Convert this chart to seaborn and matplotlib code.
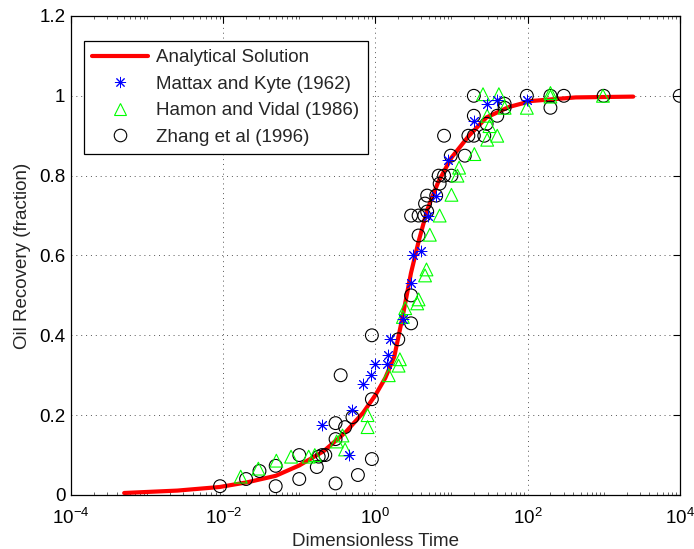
import matplotlib
matplotlib.use("Agg")
import matplotlib.pyplot as plt
import seaborn as sns
import numpy as np
import pandas as pd
from matplotlib.lines import Line2D
from matplotlib.ticker import FixedLocator, LogLocator, NullFormatter

# ---------------- data ----------------
curve_t = [0.0005, 0.0025, 0.009, 0.021, 0.049, 0.1, 0.21, 0.41, 0.69, 1.0, 1.35,
           1.77, 2.02, 2.3, 2.94, 3.7, 4.8, 6.7, 10, 17, 29, 57, 112, 430, 2450]
curve_r = [0.005, 0.011, 0.02, 0.032, 0.048, 0.074, 0.11, 0.158, 0.206, 0.25, 0.293,
           0.346, 0.398, 0.45, 0.556, 0.635, 0.714, 0.784, 0.845, 0.90, 0.946, 0.972,
           0.987, 0.996, 0.998]

mattax_t = [0.20, 0.45, 0.49, 0.69, 0.88, 1.0, 1.41, 1.48, 1.55, 2.3, 2.94, 3.14,
            3.95, 4.9, 6.3, 9.1, 19.6, 29.4, 40, 98]
mattax_r = [0.175, 0.10, 0.213, 0.278, 0.30, 0.328, 0.328, 0.35, 0.39, 0.44, 0.53, 0.60,
            0.61, 0.70, 0.75, 0.84, 0.937, 0.98, 0.99, 0.99]

hamon_t = [0.017, 0.029, 0.050, 0.078, 0.133, 0.16, 0.31, 0.37, 0.40, 0.79, 0.79,
           1.5, 2.02, 2.1, 2.3, 2.47, 3.55, 3.7, 4.5, 4.7, 5.2, 7.0, 10, 12, 12.6,
           20, 26, 29.5, 31.6, 29.5, 40, 42, 50, 98, 200, 200, 980]
hamon_r = [0.046, 0.066, 0.086, 0.096, 0.096, 0.10, 0.134, 0.149, 0.114, 0.20, 0.17,
           0.30, 0.324, 0.34, 0.446, 0.468, 0.48, 0.49, 0.55, 0.565, 0.652, 0.70, 0.752,
           0.80, 0.82, 0.854, 1.004, 0.89, 0.924, 0.95, 0.90, 1.004, 0.97, 0.97, 1.007,
           0.998, 1.0]

zhang_t = [0.0091, 0.020, 0.030, 0.049, 0.049, 0.10, 0.10, 0.17, 0.18, 0.20, 0.22,
           0.30, 0.30, 0.30, 0.35, 0.40, 0.50, 0.59, 0.90, 0.90, 0.90, 2.0, 2.95, 2.95,
           3.7, 2.95, 3.7, 4.4, 4.5, 4.8, 4.8, 6.3, 7.0, 6.8, 8.0, 8.0, 10, 9.8, 15,
           16.7, 19.7, 19.7, 19.7, 27, 29, 40, 50, 50, 98, 200, 200, 300, 1000, 10000]
zhang_r = [0.022, 0.04, 0.06, 0.022, 0.073, 0.10, 0.04, 0.07, 0.096, 0.10, 0.10,
           0.029, 0.18, 0.14, 0.30, 0.17, 0.195, 0.05, 0.40, 0.24, 0.09, 0.39, 0.43, 0.50,
           0.65, 0.70, 0.70, 0.70, 0.73, 0.75, 0.71, 0.75, 0.78, 0.80, 0.90, 0.80, 0.80,
           0.85, 0.85, 0.90, 1.0, 0.95, 0.90, 0.90, 0.93, 0.95, 0.98, 0.97, 1.0, 1.0,
           0.97, 1.0, 1.0, 1.0]

x_ticks = [1e-4, 1e-2, 1e0, 1e2, 1e4]
x_tick_labels = [r"$\mathdefault{10^{-4}}$", r"$\mathdefault{10^{-2}}$", r"$\mathdefault{10^{0}}$",
                 r"$\mathdefault{10^{2}}$", r"$\mathdefault{10^{4}}$"]
y_ticks = [0, 0.2, 0.4, 0.6, 0.8, 1.0, 1.2]
y_tick_labels = ["0", "0.2", "0.4", "0.6", "0.8", "1", "1.2"]

labels = ["Analytical Solution", "Mattax and Kyte (1962)",
          "Hamon and Vidal (1986)", "Zhang et al (1996)"]

# ---------------- style ----------------
sns.set_theme(style="white")
plt.rcParams["font.family"] = ["Liberation Sans", "DejaVu Sans"]
plt.rcParams["mathtext.fontset"] = "custom"
plt.rcParams["mathtext.rm"] = "Liberation Sans"
plt.rcParams["mathtext.it"] = "Liberation Sans:italic"
FS = 13.5

fig = plt.figure(figsize=(6.94, 5.49), dpi=100)
fig.patch.set_facecolor("white")
ax = fig.add_axes([0.1023, 0.0984, 0.8771, 0.8725])
ax.set_facecolor("white")

curve_df = pd.DataFrame({"t": curve_t, "r": curve_r})
m_df = pd.DataFrame({"t": mattax_t, "r": mattax_r})
h_df = pd.DataFrame({"t": hamon_t, "r": hamon_r})
z_df = pd.DataFrame({"t": zhang_t, "r": zhang_r})

sns.lineplot(data=curve_df, x="t", y="r", ax=ax, color="#ff0000", linewidth=3.0,
             sort=False, estimator=None, zorder=2)
sns.scatterplot(data=z_df, x="t", y="r", ax=ax, marker="o", s=85,
                facecolor="none", edgecolor="black", linewidth=0.8, zorder=3)
sns.scatterplot(data=h_df, x="t", y="r", ax=ax, marker="^", s=85,
                facecolor="none", edgecolor="#00ff00", linewidth=0.8, zorder=4)
sns.scatterplot(data=m_df, x="t", y="r", ax=ax, marker=(8, 2, 0), s=60,
                color="#0000ff", edgecolor="#0000ff", linewidth=0.7, zorder=5)

ax.set_xscale("log")
ax.set_xlim(1e-4, 1e4)
ax.set_ylim(0, 1.2)

ax.xaxis.set_major_locator(FixedLocator(x_ticks))
ax.set_xticklabels(x_tick_labels)
ax.xaxis.set_minor_locator(LogLocator(base=10, subs=np.arange(1, 10), numticks=100))
ax.xaxis.set_minor_formatter(NullFormatter())
ax.set_yticks(y_ticks)
ax.set_yticklabels(y_tick_labels)

ax.tick_params(axis="both", which="major", direction="in", length=5, width=0.8,
               top=True, right=True, labelsize=FS, colors="black")
ax.tick_params(axis="x", which="major", pad=9)
ax.tick_params(axis="y", which="major", pad=4)
ax.tick_params(axis="x", which="minor", direction="in", length=2.5, width=0.5,
               top=True, bottom=True)

for s in ax.spines.values():
    s.set_visible(True)
    s.set_color("black")
    s.set_linewidth(0.9)

ax.grid(True, which="major", linestyle=(0, (1, 4)), color="#555555", linewidth=0.7)
ax.set_axisbelow(True)

ax.set_xlabel("Dimensionless Time", fontsize=FS, labelpad=4)
ax.set_ylabel("Oil Recovery (fraction)", fontsize=FS, labelpad=6)

handles = [
    Line2D([], [], color="#ff0000", linewidth=3.0),
    Line2D([], [], linestyle="none", marker=(8, 2, 0), markersize=8,
           color="#0000ff", markeredgewidth=0.7),
    Line2D([], [], linestyle="none", marker="^", markersize=9,
           markerfacecolor="none", markeredgecolor="#00ff00", markeredgewidth=0.8),
    Line2D([], [], linestyle="none", marker="o", markersize=9,
           markerfacecolor="none", markeredgecolor="black", markeredgewidth=0.8),
]
leg = ax.legend(handles, labels, loc="upper left", bbox_to_anchor=(0.021, 0.948),
                fontsize=FS, frameon=True, fancybox=False, handlelength=3.0,
                handletextpad=0.4, labelspacing=0.5, borderpad=0.45,
                borderaxespad=0)
leg.get_frame().set_edgecolor("black")
leg.get_frame().set_linewidth(0.9)
leg.get_frame().set_alpha(1)

fig.savefig("out.png", dpi=100, facecolor="white")
